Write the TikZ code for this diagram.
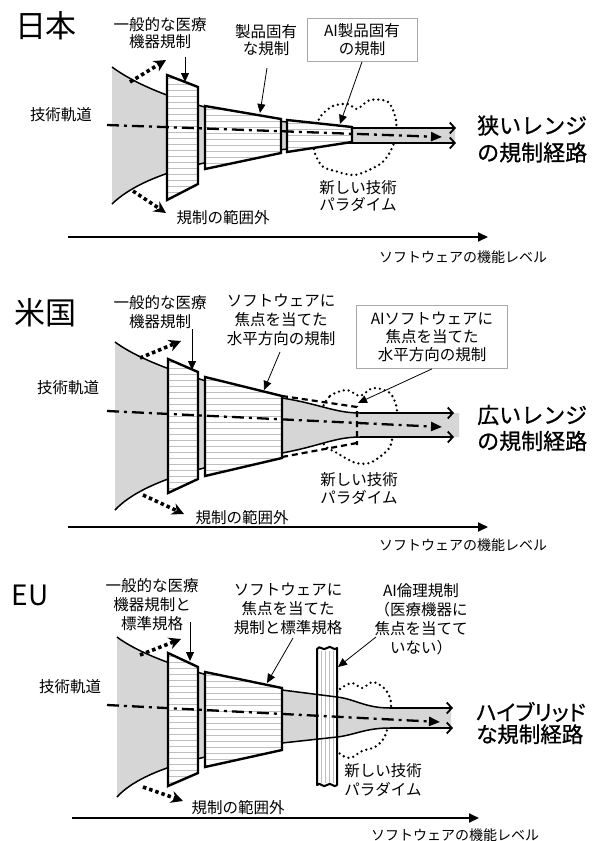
\documentclass[tikz,border=0pt]{standalone}
\usepackage{fontspec}
\setmainfont{Noto Sans CJK JP}
\newfontfamily\jpheavy{Noto Sans CJK JP}[FakeBold=0.8]
\newfontfamily\jpheavyp{Noto Sans CJK JP}[FakeBold=0.8,RawFeature=+palt]
\usetikzlibrary{arrows.meta}
\definecolor{funnelgray}{HTML}{D6D6D6}
\definecolor{hatchgray}{HTML}{BEBEBE}
\definecolor{boxgray}{HTML}{A8A8A8}
\newcommand{\regbox}[6]{%
  \fill[white] (#1,#2) -- (#4,#5) -- (#4,#6) -- (#1,#3) -- cycle;
  \begin{scope}
    \clip (#1,#2) -- (#4,#5) -- (#4,#6) -- (#1,#3) -- cycle;
    \foreach \k in {0,...,25} \draw[hatchline] (#1,{#2+3+6*\k}) -- (#4,{#2+3+6*\k});
  \end{scope}
  \draw[regedge] (#1,#2) -- (#4,#5) -- (#4,#6) -- (#1,#3) -- cycle;
}
\begin{document}
\begin{tikzpicture}[x=1pt,y=-1pt,
  lbl/.style={align=center, inner sep=0pt, font=\fontsize{15.5}{19}\selectfont},
  ttl/.style={inner sep=0pt, font=\fontsize{31}{36}\selectfont},
  res/.style={align=left, anchor=west, inner sep=0pt, font=\jpheavy\fontsize{22}{27}\selectfont},
  axl/.style={inner sep=0pt, font=\fontsize{14}{16}\selectfont},
  aibox/.style={draw=boxgray, line width=0.8pt, align=center, font=\fontsize{15.5}{18}\selectfont, inner sep=0pt},
  regedge/.style={draw=black, line width=2.4pt, line join=miter},
  hatchline/.style={hatchgray, line width=0.8pt},
  funnelline/.style={line width=1.5pt},
  tubeline/.style={line width=1.8pt, -{Straight Barb[length=5pt,width=11pt]}},
  traj/.style={line width=2.3pt, dash pattern=on 12pt off 5pt on 3pt off 5pt, -{Triangle[length=11pt,width=9pt]}},
  leader/.style={line width=0.8pt, -{Triangle[length=9pt,width=8pt]}},
  outarrow/.style={line width=3.6pt, dash pattern=on 3.5pt off 3pt, -{Stealth[length=12pt,width=12pt]}},
  axisline/.style={line width=2pt, -{Triangle[length=10pt,width=9pt]}},
  dotcloud/.style={line width=2.6pt, dash pattern=on 0pt off 5pt, line cap=round},
  dashreg/.style={line width=2.2pt, dash pattern=on 6pt off 4pt},
]
\useasboundingbox (0,0) rectangle (597,841);
\fill[white] (0,0) rectangle (597,841);

% ================= JAPAN =================
\draw[dotcloud] plot[smooth cycle] coordinates {(320,117) (333,106) (348,104) (357,109) (370,100) (388,102) (396,120) (395,140) (387,157) (377,166) (355,175) (335,171) (322,166) (314,150) (316,132)};
\fill[funnelgray] (112,67) .. controls (150,95) and (220,115) .. (287,122) .. controls (320,126) and (335,128) .. (352,128) -- (455,128) -- (455,143) -- (352,143) .. controls (335,143) and (320,145) .. (287,149) .. controls (215,158) and (145,172) .. (112,204) -- cycle;
\draw[funnelline] (112,67) .. controls (150,95) and (220,115) .. (287,122) .. controls (320,126) and (335,128) .. (352,128);
\draw[funnelline] (112,204) .. controls (145,172) and (215,158) .. (287,149) .. controls (320,145) and (335,143) .. (352,143);
\coordinate (jtu0) at (352,128); \coordinate (jtu1) at (456,128);
\coordinate (jtl0) at (352,143); \coordinate (jtl1) at (456,143);
\draw[tubeline] (jtu0) -- (jtu1);
\draw[tubeline] (jtl0) -- (jtl1);
\regbox{167}{75}{200}{198}{87}{184}
\regbox{205}{106}{169}{281}{119}{153}
\regbox{287}{120}{152}{352}{127}{142}
\coordinate (jt0) at (107,125); \coordinate (jt1) at (442,137);
\draw[traj] (jt0) -- (jt1);
\coordinate (jou0) at (130,82); \coordinate (jou1) at (166,60);
\coordinate (jod0) at (133,191); \coordinate (jod1) at (166,213);
\draw[outarrow] (jou0) -- (jou1);
\draw[outarrow] (jod0) -- (jod1);

\node[ttl] (jtitle) at (46,26) {日本};
\node[lbl, font=\fontsize{15.5}{17.5}\selectfont] (jgen) at (160,33) {一般的な医療\\機器規制};
\node[lbl, font=\fontsize{15.5}{17.5}\selectfont] (jprod) at (266,40) {製品固有\\な規制};
\node[aibox, minimum width=110pt, minimum height=43pt] (jai) at (362,40) {AI製品固有\\の規制};
\node[lbl] (jtraj) at (61,115) {技術軌道};
\node[lbl] (jout) at (223,218) {規制の範囲外};
\node[lbl, font=\fontsize{15.5}{17.5}\selectfont] (jpara) at (358,196) {新しい技術\\パラダイム};
\node[res] (jres) at (477,139) {狭いレンジ\\の規制経路};
\coordinate (jg0) at (185,57); \coordinate (jg1) at (185,82);
\draw[leader] (jg0) -- (jg1);
\coordinate (jp0) at (267,68); \coordinate (jp1) at (260,113);
\draw[leader] (jp0) -- (jp1);
\coordinate (ja1) at (340,124);
\draw[leader] (jai.south) -- (ja1);
\coordinate (jx0) at (68,237); \coordinate (jx1) at (488,237);
\draw[axisline] (jx0) -- (jx1);
\node[axl] (jaxl) at (463,257) {ソフトウェアの機能レベル};

% ================= USA =================
\draw[dotcloud] plot[smooth cycle] coordinates {(321,413) (330,396) (347,390) (360,396) (373,388) (390,393) (397,410) (393,428) (390,447) (372,462) (356,463) (337,453) (323,443)};
\fill[funnelgray] (115,342) .. controls (150,368) and (230,390) .. (282,398) .. controls (320,404) and (335,413) .. (360,413) -- (459,413) -- (459,437) -- (360,437) .. controls (335,437) and (320,446) .. (282,453) .. controls (220,462) and (145,478) .. (115,510) -- cycle;
\draw[funnelline] (115,342) .. controls (150,368) and (230,390) .. (282,398) .. controls (320,404) and (335,413) .. (360,413);
\draw[funnelline] (115,510) .. controls (145,478) and (220,462) .. (282,453) .. controls (320,446) and (335,437) .. (360,437);
\coordinate (utu0) at (360,413); \coordinate (utu1) at (454,413);
\coordinate (utl0) at (360,437); \coordinate (utl1) at (454,437);
\draw[tubeline] (utu0) -- (utu1);
\draw[tubeline] (utl0) -- (utl1);
\regbox{168}{359}{493}{198}{372}{479}
\regbox{205}{377}{476}{282}{396}{458}
\coordinate (ud0) at (282,396); \coordinate (ud1) at (357,407);
\coordinate (ud2) at (357,445); \coordinate (ud3) at (282,457);
\coordinate (ud4) at (357,443);
\draw[dashreg] (ud0) -- (ud1) -- (ud2);
\draw[dashreg] (ud3) -- (ud4);
\coordinate (ut0) at (107,411); \coordinate (ut1) at (442,427);
\draw[traj] (ut0) -- (ut1);
\coordinate (uou0) at (140,358); \coordinate (uou1) at (181,341);
\coordinate (uod0) at (143,495); \coordinate (uod1) at (184,514);
\draw[outarrow] (uou0) -- (uou1);
\draw[outarrow] (uod0) -- (uod1);

\node[ttl] (utitle) at (45,313) {米国};
\node[lbl] (ugen) at (160,312) {一般的な医療\\機器規制};
\node[lbl] (usw) at (281,320) {ソフトウェアに\\焦点を当てた\\水平方向の規制};
\node[aibox, minimum width=151pt, minimum height=63pt] (uai) at (432,337) {AIソフトウェアに\\焦点を当てた\\水平方向の規制};
\node[lbl] (utraj) at (68,388) {技術軌道};
\node[lbl] (uout) at (242,518) {規制の範囲外};
\node[lbl, font=\fontsize{15.5}{18}\selectfont] (upara) at (359,489) {新しい技術\\パラダイム};
\node[res, font=\jpheavy\fontsize{22}{26}\selectfont] (ures) at (477,428) {広いレンジ\\の規制経路};
\coordinate (ug0) at (192,329); \coordinate (ug1) at (192,370);
\draw[leader] (ug0) -- (ug1);
\coordinate (us0) at (280,352); \coordinate (us1) at (264,390);
\draw[leader] (us0) -- (us1);
\coordinate (ua1) at (358,403);
\draw[leader] (uai.south) -- (ua1);
\coordinate (ux0) at (68,527); \coordinate (ux1) at (488,527);
\draw[axisline] (ux0) -- (ux1);
\node[axl] (uaxl) at (463,545) {ソフトウェアの機能レベル};

% ================= EU =================
\draw[dotcloud] plot[smooth cycle] coordinates {(333,700) (340,689) (352,683) (362,688) (373,682) (385,689) (391,702) (389,722) (384,738) (375,747) (362,751) (350,758) (338,752) (332,735)};
\fill[funnelgray] (117,637) .. controls (150,662) and (230,684) .. (282,690) -- (337,697) .. controls (355,699) and (365,708) .. (390,708) -- (451,708) -- (451,728) -- (390,728) .. controls (365,728) and (355,735) .. (337,737) -- (282,743) .. controls (220,752) and (145,766) .. (117,797) -- cycle;
% ethics bar
\fill[white] (317,649) .. controls (320,644) and (323,652) .. (327,648) .. controls (331,644) and (334,652) .. (337,648) -- (337,785) .. controls (334,789) and (331,781) .. (327,785) .. controls (323,789) and (320,781) .. (317,785) -- cycle;
\foreach \xx in {321,325,329,333} \draw[hatchgray, line width=0.8pt] (\xx,651) -- (\xx,783);
\draw[line width=2pt, line join=round] (317,649) .. controls (320,644) and (323,652) .. (327,648) .. controls (331,644) and (334,652) .. (337,648) -- (337,785) .. controls (334,789) and (331,781) .. (327,785) .. controls (323,789) and (320,781) .. (317,785) -- cycle;
\draw[funnelline] (117,637) .. controls (150,662) and (230,684) .. (282,690) -- (337,697) .. controls (355,699) and (365,708) .. (390,708);
\draw[funnelline] (117,797) .. controls (145,766) and (220,752) .. (282,743) -- (337,737) .. controls (355,735) and (365,728) .. (390,728);
\coordinate (etu0) at (390,708); \coordinate (etu1) at (453,708);
\coordinate (etl0) at (390,728); \coordinate (etl1) at (453,728);
\draw[tubeline] (etu0) -- (etu1);
\draw[tubeline] (etl0) -- (etl1);
\regbox{168}{653}{786}{198}{667}{773}
\regbox{205}{672}{767}{282}{688}{750}
\coordinate (et0) at (107,705); \coordinate (et1) at (440,722);
\draw[traj] (et0) -- (et1);
\coordinate (eou0) at (140,655); \coordinate (eou1) at (181,639);
\coordinate (eod0) at (143,787); \coordinate (eod1) at (183,801);
\draw[outarrow] (eou0) -- (eou1);
\draw[outarrow] (eod0) -- (eod1);

\node[ttl, font=\fontsize{28}{32}\selectfont] (etitle) at (30,595) {EU};
\node[lbl] (egen) at (152,605) {一般的な医療\\機器規制と\\標準規格};
\node[lbl] (esw) at (288,609) {ソフトウェアに\\焦点を当てた\\規制と標準規格};
\node[lbl] (eai) at (421,619) {AI倫理規制\\（医療機器に\\焦点を当てて\\いない）};
\node[lbl] (etraj) at (70,687) {技術軌道};
\node[lbl] (eout) at (238,808) {規制の範囲外};
\node[lbl] (epara) at (383,780) {新しい技術\\パラダイム};
\node[res, font=\jpheavyp\fontsize{21.5}{22}\selectfont] (eres) at (476,723) {ハイブリッド\\な規制経路};
\coordinate (eg0) at (190,622); \coordinate (eg1) at (190,661);
\draw[leader] (eg0) -- (eg1);
\coordinate (es0) at (293,638); \coordinate (es1) at (267,683);
\draw[leader] (es0) -- (es1);
\coordinate (ea0) at (376,637); \coordinate (ea1) at (338,667);
\draw[leader] (ea0) -- (ea1);
\coordinate (ex0) at (72,818); \coordinate (ex1) at (479,818);
\draw[axisline] (ex0) -- (ex1);
\node[axl] (eaxl) at (455,835) {ソフトウェアの機能レベル};
\end{tikzpicture}
\end{document}
